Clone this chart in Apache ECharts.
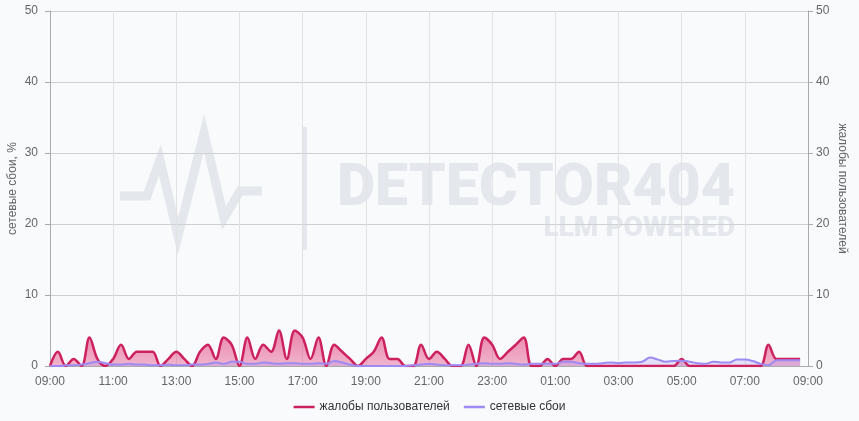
<!DOCTYPE html>
<html>
<head>
<meta charset="utf-8">
<title>DETECTOR404</title>
<script src="https://cdn.jsdelivr.net/npm/echarts@6/dist/echarts.min.js"></script>
<style>
  html, body { margin: 0; padding: 0; background: #f9fafc; }
  #chart { width: 859px; height: 421px; }
</style>
</head>
<body>
<div id="chart"></div>
<script>
// 15-минутные отсчёты с 09:00 до 09:00 следующего дня
const times = [
  '09:00','09:15','09:30','09:45','10:00','10:15','10:30','10:45','11:00','11:15','11:30','11:45',
  '12:00','12:15','12:30','12:45','13:00','13:15','13:30','13:45','14:00','14:15','14:30','14:45',
  '15:00','15:15','15:30','15:45','16:00','16:15','16:30','16:45','17:00','17:15','17:30','17:45',
  '18:00','18:15','18:30','18:45','19:00','19:15','19:30','19:45','20:00','20:15','20:30','20:45',
  '21:00','21:15','21:30','21:45','22:00','22:15','22:30','22:45','23:00','23:15','23:30','23:45',
  '00:00','00:15','00:30','00:45','01:00','01:15','01:30','01:45','02:00','02:15','02:30','02:45',
  '03:00','03:15','03:30','03:45','04:00','04:15','04:30','04:45','05:00','05:15','05:30','05:45',
  '06:00','06:15','06:30','06:45','07:00','07:15','07:30','07:45','08:00','08:15','08:30','08:45',
  '09:00'
]

// жалобы пользователей (правая ось)
const complaints = [
  0, 2, 0, 1, 0, 4, 1, 0, 1, 3, 1, 2,
  2, 2, 0, 1, 2, 1, 0, 2, 3, 1, 4, 3,
  0, 4, 1, 3, 2, 5, 1, 5, 4, 1, 4, 0,
  3, 2, 1, 0, 1, 2, 4, 1, 1, 0, 0, 3,
  1, 2, 1, 0, 0, 3, 0, 4, 3, 1, 2, 3,
  4, 0, 0, 1, 0, 1, 1, 2, 0, 0, 0, 0,
  0, 0, 0, 0, 0, 0, 0, 0, 1, 0, 0, 0,
  0, 0, 0, 0, 0, 0, 0, 3, 1, 1, 1, 1
]

// сетевые сбои, % (левая ось)
const failures = [
  0, 0, 0.1, 0.1, 0.2, 0.4, 0.6, 0.4, 0.2, 0.2, 0.3, 0.2,
  0.2, 0.1, 0.1, 0.2, 0.1, 0.1, 0.2, 0.2, 0.3, 0.5, 0.3, 0.6,
  0.6, 0.3, 0.3, 0.5, 0.4, 0.3, 0.4, 0.4, 0.3, 0.3, 0.4, 0.3,
  0.7, 0.5, 0.2, 0, 0, 0, 0, 0, 0, 0, 0.1, 0.2,
  0.3, 0.2, 0.1, 0.1, 0.1, 0.2, 0.3, 0.4, 0.3, 0.3, 0.4, 0.3,
  0.2, 0.3, 0.3, 0.3, 0.3, 0.6, 0.6, 0.4, 0.3, 0.3, 0.4, 0.5,
  0.4, 0.5, 0.5, 0.6, 1.2, 0.9, 0.6, 0.7, 0.75, 0.6, 0.4, 0.3,
  0.6, 0.5, 0.5, 0.9, 0.9, 0.7, 0.3, 0.1, 0.8, 0.8, 0.8, 0.8
]

const seriesNames = ['жалобы пользователей', 'сетевые сбои']
const axisNames = ['сетевые сбои, %', 'жалобы пользователей']

const chart = echarts.init(document.getElementById('chart'))
const wm = '#e4e7ec'

chart.setOption({
  backgroundColor: '#f9fafc',
  textStyle: { fontFamily: 'Arial, "Liberation Sans", sans-serif' },
  animation: false,
  graphic: [
    // водяной знак
    { type: 'polyline', z: -10, silent: true,
      shape: { points: [[120, 196], [147, 196], [160, 160], [178, 236], [204, 133], [224, 218], [240, 191], [262, 191]] },
      style: { stroke: wm, lineWidth: 9, fill: null, lineJoin: 'miter' } },
    { type: 'rect', z: -10, silent: true,
      shape: { x: 302, y: 127, width: 5, height: 123 },
      style: { fill: wm } },
    { type: 'text', z: -10, silent: true, x: 735, y: 161,
      style: { text: 'DETECTOR404', fill: wm, font: '900 59px Roboto', textAlign: 'right' } },
    { type: 'text', z: -10, silent: true, x: 735, y: 215,
      style: { text: 'LLM POWERED', fill: wm, font: '900 28px Roboto', textAlign: 'right' } }
  ],
  grid: { left: 50, right: 51, top: 11, bottom: 55, outerBoundsMode: 'none', containLabel: false },
  legend: {
    bottom: 3,
    left: 'center',
    icon: 'rect',
    itemWidth: 21,
    itemHeight: 2.5,
    itemGap: 14,
    textStyle: { color: '#333', fontSize: 12 },
    data: seriesNames
  },
  xAxis: {
    type: 'category',
    boundaryGap: false,
    data: times,
    axisLine: { lineStyle: { color: '#aaa' } },
    axisTick: { show: false },
    axisLabel: { interval: 7, color: '#666', fontSize: 12, margin: 10 },
    splitLine: { show: true, interval: 7, lineStyle: { color: '#e2e2e2' } }
  },
  yAxis: [
    {
      type: 'value', min: 0, max: 50, interval: 10, position: 'left',
      name: axisNames[0], nameLocation: 'middle', nameGap: 31, nameRotate: 90,
      nameMoveOverlap: false,
      nameTextStyle: { color: '#666', fontSize: 12 },
      axisLine: { show: true, lineStyle: { color: '#aaa' } },
      axisTick: { show: true, lineStyle: { color: '#aaa' } },
      axisLabel: { color: '#666', fontSize: 12, margin: 12 },
      splitLine: { lineStyle: { color: '#d0d0d0' } }
    },
    {
      type: 'value', min: 0, max: 50, interval: 10, position: 'right',
      name: axisNames[1], nameLocation: 'middle', nameGap: 28, nameRotate: -90,
      nameMoveOverlap: false,
      nameTextStyle: { color: '#666', fontSize: 12 },
      axisLine: { show: true, lineStyle: { color: '#aaa' } },
      axisTick: { show: true, lineStyle: { color: '#aaa' } },
      axisLabel: { color: '#666', fontSize: 12 },
      splitLine: { show: false }
    }
  ],
  series: [
    {
      name: seriesNames[0],
      type: 'line',
      yAxisIndex: 1,
      smooth: 0.35,
      symbol: 'none',
      color: '#cc215d',
      lineStyle: { width: 2.5, color: '#cc215d' },
      areaStyle: {
        color: new echarts.graphic.LinearGradient(0, 0, 0, 1, [
          { offset: 0, color: 'rgba(224, 52, 116, 0.85)' },
          { offset: 1, color: 'rgba(224, 52, 116, 0.5)' }
        ])
      },
      data: complaints
    },
    {
      name: seriesNames[1],
      type: 'line',
      yAxisIndex: 0,
      smooth: 0.35,
      symbol: 'none',
      color: '#9d8af2',
      lineStyle: { width: 2, color: '#9d8af2' },
      areaStyle: { color: 'rgba(157, 138, 242, 0.35)' },
      data: failures
    }
  ]
})
</script>
</body>
</html>
